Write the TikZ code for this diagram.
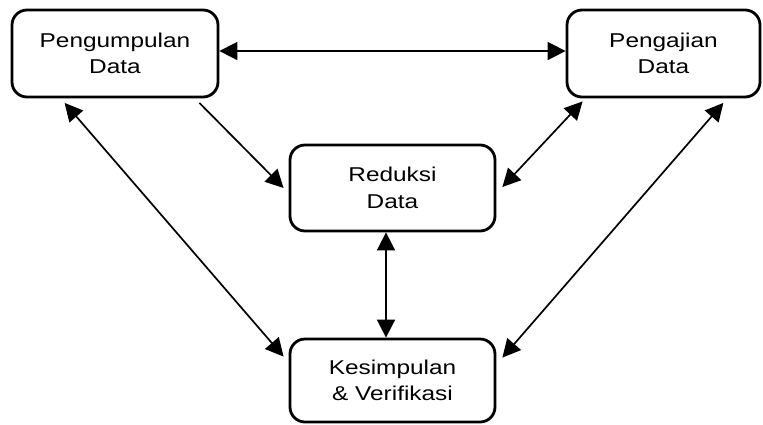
\documentclass[tikz,border=0pt]{standalone}
\usepackage{fontspec}
\setmainfont[FakeStretch=1.22]{Liberation Sans}
\usetikzlibrary{arrows.meta}
\tikzset{
  stepbox/.style={draw, line width=2.8pt, rounded corners=15pt, align=center,
    inner sep=0pt, font=\fontsize{20}{26.6}\selectfont},
  link/.style={line width=1.7pt, -{Triangle[length=18pt,width=18pt]}},
  biglink/.style={line width=1.7pt, {Triangle[length=18pt,width=18pt]}-{Triangle[length=18pt,width=18pt]}}
}

\begin{document}
\begin{tikzpicture}[x=1pt,y=1pt]
			%%%%% START %%%%%
			\useasboundingbox (0,0) rectangle (763,-424);
			
			\node[stepbox, minimum width=206pt, minimum height=87pt] (kumpul) at (115,-53.5) {Pengumpulan\\Data};
			\node[stepbox, minimum width=193pt, minimum height=87pt] (saji) at (663.5,-53.5) {Pengajian\\Data};
			\node[stepbox, minimum width=205pt, minimum height=86pt] (reduksi) at (392.5,-188) {Reduksi\\Data};
			\node[stepbox, minimum width=205pt, minimum height=83pt] (simpul) at (392.5,-380.5) {Kesimpulan\\\& Verifikasi};
			
			\draw[biglink] ([yshift=2.5pt]kumpul.east) -- ([yshift=2.5pt]kumpul.east -| saji.west);
			\draw[link] ([shift={(-20pt,-4.5pt)}]kumpul.south east) -- ([shift={(-5pt,0pt)}]reduksi.west);
			\draw[biglink] ([shift={(17pt,-3pt)}]saji.south west) -- ([shift={(6pt,1pt)}]reduksi.east);
			
			\draw[biglink] ([shift={(54pt,-4.5pt)}]kumpul.south west) -- ([shift={(-5pt,-19pt)}]simpul.north west);
			\draw[biglink] ([shift={(-38pt,-4.5pt)}]saji.south east) -- ([shift={(6pt,-20pt)}]simpul.north east);
			
			\draw[biglink] ([xshift=-6.5pt]reduksi.south) -- ([xshift=-6.5pt]reduksi.south |- simpul.north);
			%%%%% END %%%%%
\end{tikzpicture}
\end{document}
